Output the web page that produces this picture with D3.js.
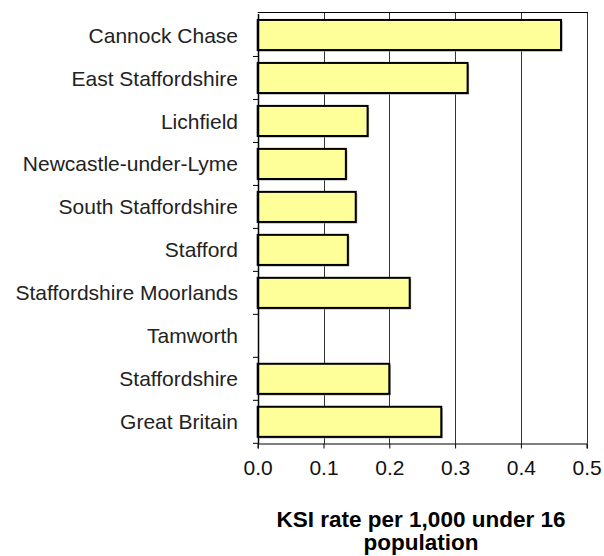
<!DOCTYPE html>
<html><head><meta charset="utf-8">
<script src="https://cdn.jsdelivr.net/npm/d3@7"></script>
<style>body{margin:0;background:#fff}svg{display:block}text{font-family:"Liberation Sans",Arial,sans-serif}</style>
</head><body>
<svg id="c" width="604" height="556"></svg>
<script>
const categories = ["Cannock Chase","East Staffordshire","Lichfield","Newcastle-under-Lyme","South Staffordshire","Stafford","Staffordshire Moorlands","Tamworth","Staffordshire","Great Britain"];
const values = [0.461, 0.319, 0.167, 0.134, 0.149, 0.137, 0.231, null, 0.200, 0.279];
const xTicks = [0, 0.1, 0.2, 0.3, 0.4, 0.5];
const titleLines = ["KSI rate per 1,000 under 16", "population"];

const FONT = '"Liberation Sans",Arial,sans-serif';
const svg = d3.select("#c");
const x = d3.scaleLinear().domain([0, 0.5]).range([257.7, 586.7]);
const y = d3.scaleBand().domain(categories).range([13.5, 443.3]).paddingInner(0.3).paddingOuter(0.15);
const yb = d3.scaleBand().domain(categories).range([13.5, 443.3]);

// gridlines
svg.append("g").selectAll("line").data(xTicks.slice(1)).join("line")
  .attr("x1", d => Math.round(x(d)) + 0.5).attr("x2", d => Math.round(x(d)) + 0.5)
  .attr("y1", 13).attr("y2", 443.5).attr("stroke", "#333").attr("stroke-width", 1);
// top frame
svg.append("line").attr("x1", x(0)).attr("x2", Math.round(x(0.5)) + 1).attr("y1", 12.5).attr("y2", 12.5).attr("stroke", "#000");

// bars (shadow + bar)
const data = categories.map((c, i) => ({c, v: values[i]})).filter(d => d.v != null);
svg.append("g").selectAll("rect").data(data).join("rect")
  .attr("x", x(0) + 1.5).attr("y", d => y(d.c) + 1.5)
  .attr("width", d => x(d.v) - x(0)).attr("height", y.bandwidth())
  .attr("fill", "#999");
svg.append("g").selectAll("rect").data(data).join("rect")
  .attr("x", x(0)).attr("y", d => y(d.c))
  .attr("width", d => x(d.v) - x(0)).attr("height", y.bandwidth())
  .attr("fill", "#FFFF99").attr("stroke", "#000").attr("stroke-width", 2);

// x axis
const xAxis = d3.axisBottom(x).tickValues(xTicks).tickFormat(d3.format(".1f")).tickSize(5).tickPadding(12);
const gx = svg.append("g").attr("transform", "translate(0,443.5)").call(xAxis);
gx.select(".domain").attr("stroke", "#000");
gx.selectAll(".tick line").attr("stroke", "#000");
gx.selectAll("text").attr("font-size", 21).attr("fill", "#111").style("font-family", FONT);

// y axis
const gy = svg.append("g").attr("transform", "translate(258,0)")
  .call(d3.axisLeft(yb).tickSize(0).tickPadding(20));
gy.select(".domain").attr("stroke", "#000").attr("stroke-width", 1.5);
gy.selectAll("text").attr("font-size", 21).attr("fill", "#222").attr("dy", "0.36em").style("font-family", FONT);
// category boundary ticks
svg.append("g").selectAll("line").data(categories).join("line")
  .attr("x1", 253).attr("x2", 258).attr("y1", d => yb(d) + yb.bandwidth()).attr("y2", d => yb(d) + yb.bandwidth())
  .attr("stroke", "#000");

// title
svg.append("text").attr("text-anchor", "middle")
  .attr("font-size", 22.5).attr("font-weight", "bold").attr("fill", "#000")
  .selectAll("tspan").data(titleLines).join("tspan")
  .attr("x", 421).attr("y", (d, i) => 527 + i * 23).text(d => d);
</script>
</body></html>
